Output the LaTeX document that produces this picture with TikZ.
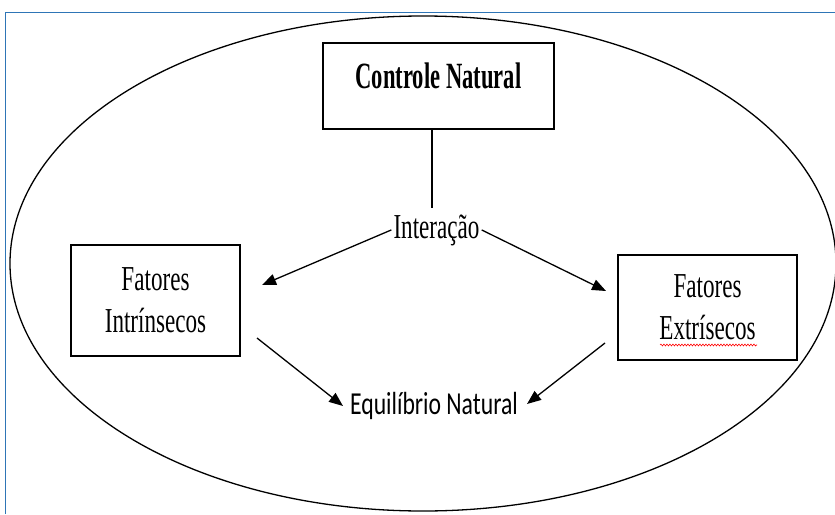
\documentclass[tikz,border=0pt]{standalone}
\usepackage{fontspec}
\setmainfont{Liberation Serif}
\newfontfamily\condserif[FakeStretch=0.66]{Liberation Serif}
\newfontfamily\condserifb[FakeStretch=0.61]{Liberation Serif}
\newfontfamily\condsans[FakeStretch=0.74]{Carlito}
\usetikzlibrary{arrows.meta,decorations.pathmorphing}
\definecolor{framblue}{RGB}{46,117,182}
\tikzset{
  boxnode/.style={draw=black, line width=1.3pt, inner sep=0pt},
  arr/.style={line width=1.3pt, -{Triangle[length=14pt,width=11pt]}},
  serif32/.style={font=\condserif\fontsize{35}{42}\selectfont},
}
\begin{document}
\begin{tikzpicture}[x=1pt,y=-1pt]
\useasboundingbox (0,0) rectangle (835,514);
\clip (0,0) rectangle (835,514);
\fill[white] (0,0) rectangle (835,514);
% blue frame
\draw[framblue, line width=1pt] (5,514) -- (5,12) -- (836,12);
% big ellipse
\draw[line width=1.3pt] (423,263.5) ellipse [x radius=413pt, y radius=247.5pt];
% boxes
\node[boxnode, minimum width=231pt, minimum height=86pt] (cn) at (438.5,86) {};
\node[font=\condserifb\bfseries\fontsize{37}{40}\selectfont, anchor=base] (cnt) at (438.5,88) {Controle Natural};
\node[boxnode, minimum width=169pt, minimum height=111pt, serif32, align=center] (fi) at (155.5,300.5) {Fatores\\Intrínsecos};
\node[boxnode, minimum width=179pt, minimum height=105pt, serif32, align=center] (fe) at (707.5,307.5) {Fatores\\Extrísecos};
% text nodes
\node[serif32, anchor=base, inner sep=2pt] (int) at (436.5,238) {Interação};
\node[font=\condsans\fontsize{32}{36}\selectfont, anchor=base, inner sep=2pt] (eq) at (434,414) {Equilíbrio Natural};
% coordinates for free ends
\coordinate (vt) at (432,129);
\coordinate (vb) at (432,208);
\coordinate (tipL) at (262,285);
\coordinate (tipR) at (606,291);
\coordinate (sL) at (257,338);
\coordinate (sR) at (605,343);
\coordinate (tipEL) at (343,406);
\coordinate (tipER) at (527,404);
% connectors
\draw[line width=1.1pt] (vt) -- (vb);
\draw[arr] (int.west) -- (tipL);
\draw[arr] (int.east) -- (tipR);
\draw[arr] (sL) -- (tipEL);
\draw[arr] (sR) -- (tipER);
% spell-check underline
\draw[red, line width=0.6pt, decorate, decoration={snake, amplitude=0.9pt, segment length=3pt}] (660,345) -- (757,345);
\end{tikzpicture}
\end{document}
